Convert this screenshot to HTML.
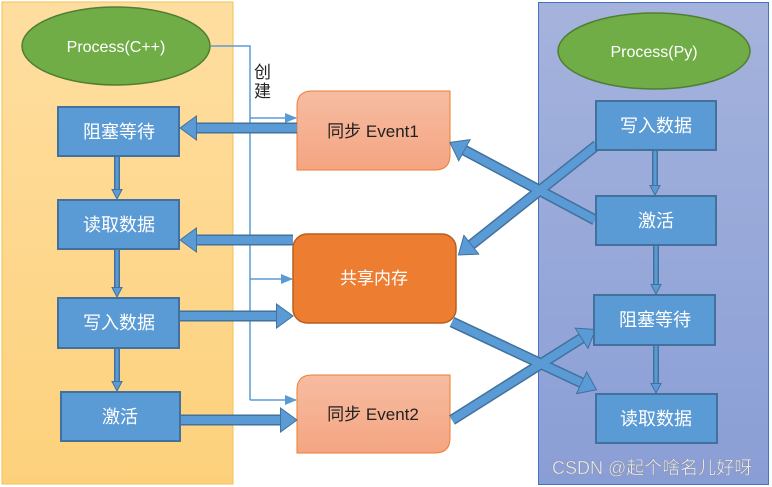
<!DOCTYPE html>
<html><head><meta charset="utf-8"><style>
html,body{margin:0;padding:0;background:#fff}
svg{display:block}
text{font-family:"Liberation Sans","Noto Sans CJK SC",sans-serif}
</style></head><body>
<svg width="772" height="487" viewBox="0 0 772 487" xmlns="http://www.w3.org/2000/svg">
<defs>
<linearGradient id="lg" x1="0" y1="0" x2="0" y2="1"><stop offset="0" stop-color="#fedea0"/><stop offset="1" stop-color="#fdd17c"/></linearGradient>
<linearGradient id="rg" x1="0" y1="0" x2="0" y2="1"><stop offset="0" stop-color="#a5b3dc"/><stop offset="1" stop-color="#8a9ed6"/></linearGradient>
<linearGradient id="eg" x1="0" y1="0" x2="0" y2="1"><stop offset="0" stop-color="#f7bca1"/><stop offset="1" stop-color="#f4a582"/></linearGradient>
<marker id="big" markerUnits="userSpaceOnUse" markerWidth="20" markerHeight="26" refX="1" refY="13" orient="auto"><path d="M0.5,1 L17,13 L0.5,25 z" fill="#5b9bd5" stroke="#41719c" stroke-width="1"/></marker>
<marker id="sm" markerUnits="userSpaceOnUse" markerWidth="12" markerHeight="14" refX="1" refY="7" orient="auto"><path d="M0.5,2 L10,7 L0.5,12 z" fill="#5b9bd5" stroke="#41719c" stroke-width="1"/></marker>
<marker id="th" markerUnits="userSpaceOnUse" markerWidth="12" markerHeight="10" refX="11" refY="5" orient="auto"><path d="M0,0 L12,5 L0,10 z" fill="#5b9bd5"/></marker>
</defs>
<rect x="2" y="2" width="231" height="482" fill="url(#lg)" stroke="#f2c14e" stroke-width="1"/>
<rect x="538.5" y="2.5" width="230" height="482" fill="url(#rg)" stroke="#4472c4" stroke-width="1"/>

<ellipse cx="116" cy="46" rx="94" ry="39" fill="#70ad47" stroke="#507e32" stroke-width="1.5"/>
<text x="116" y="52" font-size="16" fill="#fff" text-anchor="middle">Process(C++)</text>
<ellipse cx="654" cy="51" rx="96" ry="38" fill="#70ad47" stroke="#507e32" stroke-width="1.5"/>
<text x="654" y="57" font-size="16" fill="#fff" text-anchor="middle">Process(Py)</text>

<polyline points="211,46 250,46 250,400" fill="none" stroke="#5b9bd5" stroke-width="1.5"/>
<line x1="250" y1="118" x2="296" y2="118" stroke="#5b9bd5" stroke-width="1.5" marker-end="url(#th)"/>
<line x1="250" y1="279" x2="292" y2="279" stroke="#5b9bd5" stroke-width="1.5" marker-end="url(#th)"/>
<line x1="250" y1="400" x2="296" y2="400" stroke="#5b9bd5" stroke-width="1.5" marker-end="url(#th)"/>
<text x="254" y="78" font-size="17" fill="#222">创</text>
<text x="254" y="97" font-size="17" fill="#222">建</text>

<path d="M312,91 H450 V155 Q450,170 435,170 H297 V106 Q297,91 312,91 z" fill="url(#eg)" stroke="#ed7d31" stroke-width="1"/>
<text x="373" y="137" font-size="17" fill="#222" text-anchor="middle">同步 Event1</text>
<rect x="293" y="234" width="163" height="89" rx="14" fill="#ed7d31" stroke="#b85f1f" stroke-width="1.5"/>
<text x="374" y="284" font-size="17" fill="#fff" text-anchor="middle">共享内存</text>
<path d="M312,375 H450 V438 Q450,453 435,453 H297 V390 Q297,375 312,375 z" fill="url(#eg)" stroke="#ed7d31" stroke-width="1"/>
<text x="373" y="420" font-size="17" fill="#222" text-anchor="middle">同步 Event2</text>

<g stroke-linecap="butt">
<g stroke="#41719c" stroke-width="11">
<line x1="297" y1="128" x2="196" y2="128"/>
<line x1="293" y1="240" x2="196" y2="240"/>
<line x1="179" y1="316" x2="277" y2="316"/>
<line x1="180" y1="420" x2="281" y2="420"/>
<line x1="597" y1="145" x2="471" y2="245"/>
<line x1="595" y1="220" x2="464" y2="150"/>
<line x1="452" y1="322" x2="582" y2="383"/>
<line x1="452" y1="420" x2="582" y2="338"/>
</g>
<g stroke="#5b9bd5" stroke-width="8">
<line x1="297" y1="128" x2="196" y2="128" marker-end="url(#big)"/>
<line x1="293" y1="240" x2="196" y2="240" marker-end="url(#big)"/>
<line x1="179" y1="316" x2="277" y2="316" marker-end="url(#big)"/>
<line x1="180" y1="420" x2="281" y2="420" marker-end="url(#big)"/>
<line x1="597" y1="145" x2="471" y2="245" marker-end="url(#big)"/>
<line x1="595" y1="220" x2="464" y2="150" marker-end="url(#big)"/>
<line x1="452" y1="322" x2="582" y2="383" marker-end="url(#big)"/>
<line x1="452" y1="420" x2="582" y2="338" marker-end="url(#big)"/>
</g>
<g stroke="#41719c" stroke-width="6">
<line x1="117" y1="156" x2="117" y2="190"/><line x1="117" y1="249" x2="117" y2="288"/><line x1="117" y1="348" x2="117" y2="382"/>
<line x1="655" y1="150" x2="655" y2="186"/><line x1="656" y1="245" x2="656" y2="285"/><line x1="656" y1="345" x2="656" y2="384"/>
</g>
<g stroke="#5b9bd5" stroke-width="3">
<line x1="117" y1="156" x2="117" y2="190" marker-end="url(#sm)"/><line x1="117" y1="249" x2="117" y2="288" marker-end="url(#sm)"/><line x1="117" y1="348" x2="117" y2="382" marker-end="url(#sm)"/>
<line x1="655" y1="150" x2="655" y2="186" marker-end="url(#sm)"/><line x1="656" y1="245" x2="656" y2="285" marker-end="url(#sm)"/><line x1="656" y1="345" x2="656" y2="384" marker-end="url(#sm)"/>
</g>
</g>

<g fill="#5b9bd5" stroke="#41719c" stroke-width="2">
<rect x="58" y="107" width="121" height="49"/>
<rect x="58" y="200" width="121" height="49"/>
<rect x="58" y="298" width="121" height="50"/>
<rect x="61" y="392" width="119" height="49"/>
<rect x="596" y="101" width="120" height="49"/>
<rect x="596" y="196" width="120" height="49"/>
<rect x="594" y="295" width="121" height="50"/>
<rect x="596" y="394" width="121" height="49"/>
</g>
<g font-size="18" fill="#fff" text-anchor="middle">
<text x="119" y="138">阻塞等待</text>
<text x="119" y="231">读取数据</text>
<text x="119" y="329">写入数据</text>
<text x="120" y="423">激活</text>
<text x="656" y="132">写入数据</text>
<text x="656" y="227">激活</text>
<text x="655" y="326">阻塞等待</text>
<text x="656" y="425">读取数据</text>
</g>
<text x="552" y="474" font-size="18" fill="#e8ecf6" stroke="#777" stroke-width="0.3">CSDN @起个啥名儿好呀</text>
</svg>
</body></html>
